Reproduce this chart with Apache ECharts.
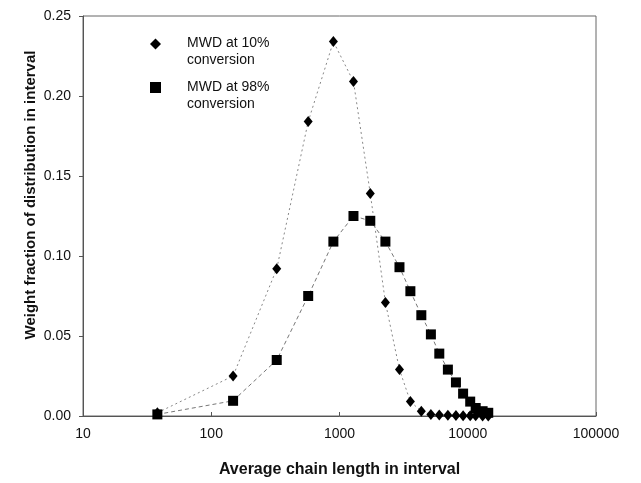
<!DOCTYPE html>
<html>
<head>
<meta charset="utf-8">
<title>MWD</title>
<style>
    html, body { margin: 0; padding: 0; background: #fff; }
    #container { width: 641px; height: 483px; }
</style>
</head>
<body>
<div id="container"></div>
<script src="https://cdn.jsdelivr.net/npm/echarts@6.0.0/dist/echarts.min.js"></script>
<script type="text/javascript">
    // 区间平均链长
    var chainLength = [38, 148, 324, 570, 896, 1285, 1738, 2280, 2935, 3570, 4345, 5160, 6000, 7000, 8090, 9200, 10450, 11530, 13060, 14450];
    // 10% 转化率
    var frac10 = [0.002, 0.025, 0.092, 0.184, 0.234, 0.209, 0.139, 0.071, 0.029, 0.009, 0.003, 0.001, 0.0006, 0.0004, 0.0003, 0.0002, 0.0001, 0.0001, 0, 0];
    // 98% 转化率
    var frac98 = [0.001, 0.0095, 0.035, 0.075, 0.109, 0.125, 0.122, 0.109, 0.093, 0.078, 0.063, 0.051, 0.039, 0.029, 0.021, 0.014, 0.009, 0.005, 0.003, 0.002];
    var seriesNames = ['MWD at 10%\nconversion', 'MWD at 98%\nconversion'];

    function pairs(xs, ys) {
        return xs.map(function (x, i) { return [x, ys[i]]; });
    }

    window.onload = function () {
        var myChart = echarts.init(document.getElementById('container'));
        var font = 'Liberation Sans, Arial, sans-serif';

        var option = {
            animation: false,
            textStyle: { fontFamily: font },
            grid: {
                left: 83, right: 45, top: 16, bottom: 62,
                show: true, borderColor: '#666', borderWidth: 1
            },
            legend: {
                orient: 'vertical',
                left: 150, top: 22,
                padding: 0,
                itemWidth: 11, itemHeight: 11,
                itemGap: -2,
                data: [
                    { name: seriesNames[0], icon: 'diamond' },
                    { name: seriesNames[1], icon: 'rect' }
                ],
                // 图例图标对齐第一行：上方加一个空行
                formatter: function (name) {
                    return '{b| }\n' + name.split('\n').map(function (s) {
                        return '{a|' + s + '}';
                    }).join('\n');
                },
                textStyle: {
                    padding: [0, 0, 0, 21],
                    rich: {
                        a: { fontSize: 14, color: '#111', lineHeight: 17, fontFamily: font },
                        b: { fontSize: 10, lineHeight: 16 }
                    }
                }
            },
            xAxis: {
                type: 'log',
                logBase: 10,
                min: 10,
                max: 100000,
                name: 'Average chain length in interval',
                nameLocation: 'middle',
                nameGap: 46,
                nameTextStyle: { fontSize: 16, fontWeight: 'bold', color: '#111' },
                axisLine: { lineStyle: { color: '#555' } },
                axisTick: { inside: true, length: 4, lineStyle: { color: '#555' } },
                axisLabel: {
                    fontSize: 14, color: '#111', margin: 11,
                    formatter: function (v) { return String(Math.round(v)); }
                },
                splitLine: { show: false },
                minorTick: { show: false }
            },
            yAxis: {
                type: 'value',
                min: 0,
                max: 0.25,
                interval: 0.05,
                axisLine: { show: true, lineStyle: { color: '#555' } },
                axisTick: { show: true, length: 4, lineStyle: { color: '#555' } },
                axisLabel: {
                    fontSize: 14, color: '#111', margin: 12,
                    formatter: function (v) { return v.toFixed(2); }
                },
                splitLine: { show: false }
            },
            graphic: [{
                type: 'text',
                x: 31, y: 195,
                rotation: Math.PI / 2,
                style: {
                    text: 'Weight fraction of distribution in interval',
                    font: 'bold 15px Liberation Sans, Arial, sans-serif',
                    fill: '#111',
                    align: 'center',
                    verticalAlign: 'middle'
                }
            }],
            series: [{
                name: seriesNames[0],
                type: 'line',
                data: pairs(chainLength, frac10),
                symbol: 'diamond',
                symbolSize: [9, 11],
                itemStyle: { color: '#000' },
                lineStyle: { color: '#888', width: 1, type: [2, 3] },
                z: 2
            }, {
                name: seriesNames[1],
                type: 'line',
                data: pairs(chainLength, frac98),
                symbol: 'rect',
                symbolSize: 10,
                itemStyle: { color: '#000' },
                lineStyle: { color: '#777', width: 1, type: [4, 3] },
                z: 3
            }]
        };

        myChart.setOption(option);
    };
</script>
</body>
</html>
